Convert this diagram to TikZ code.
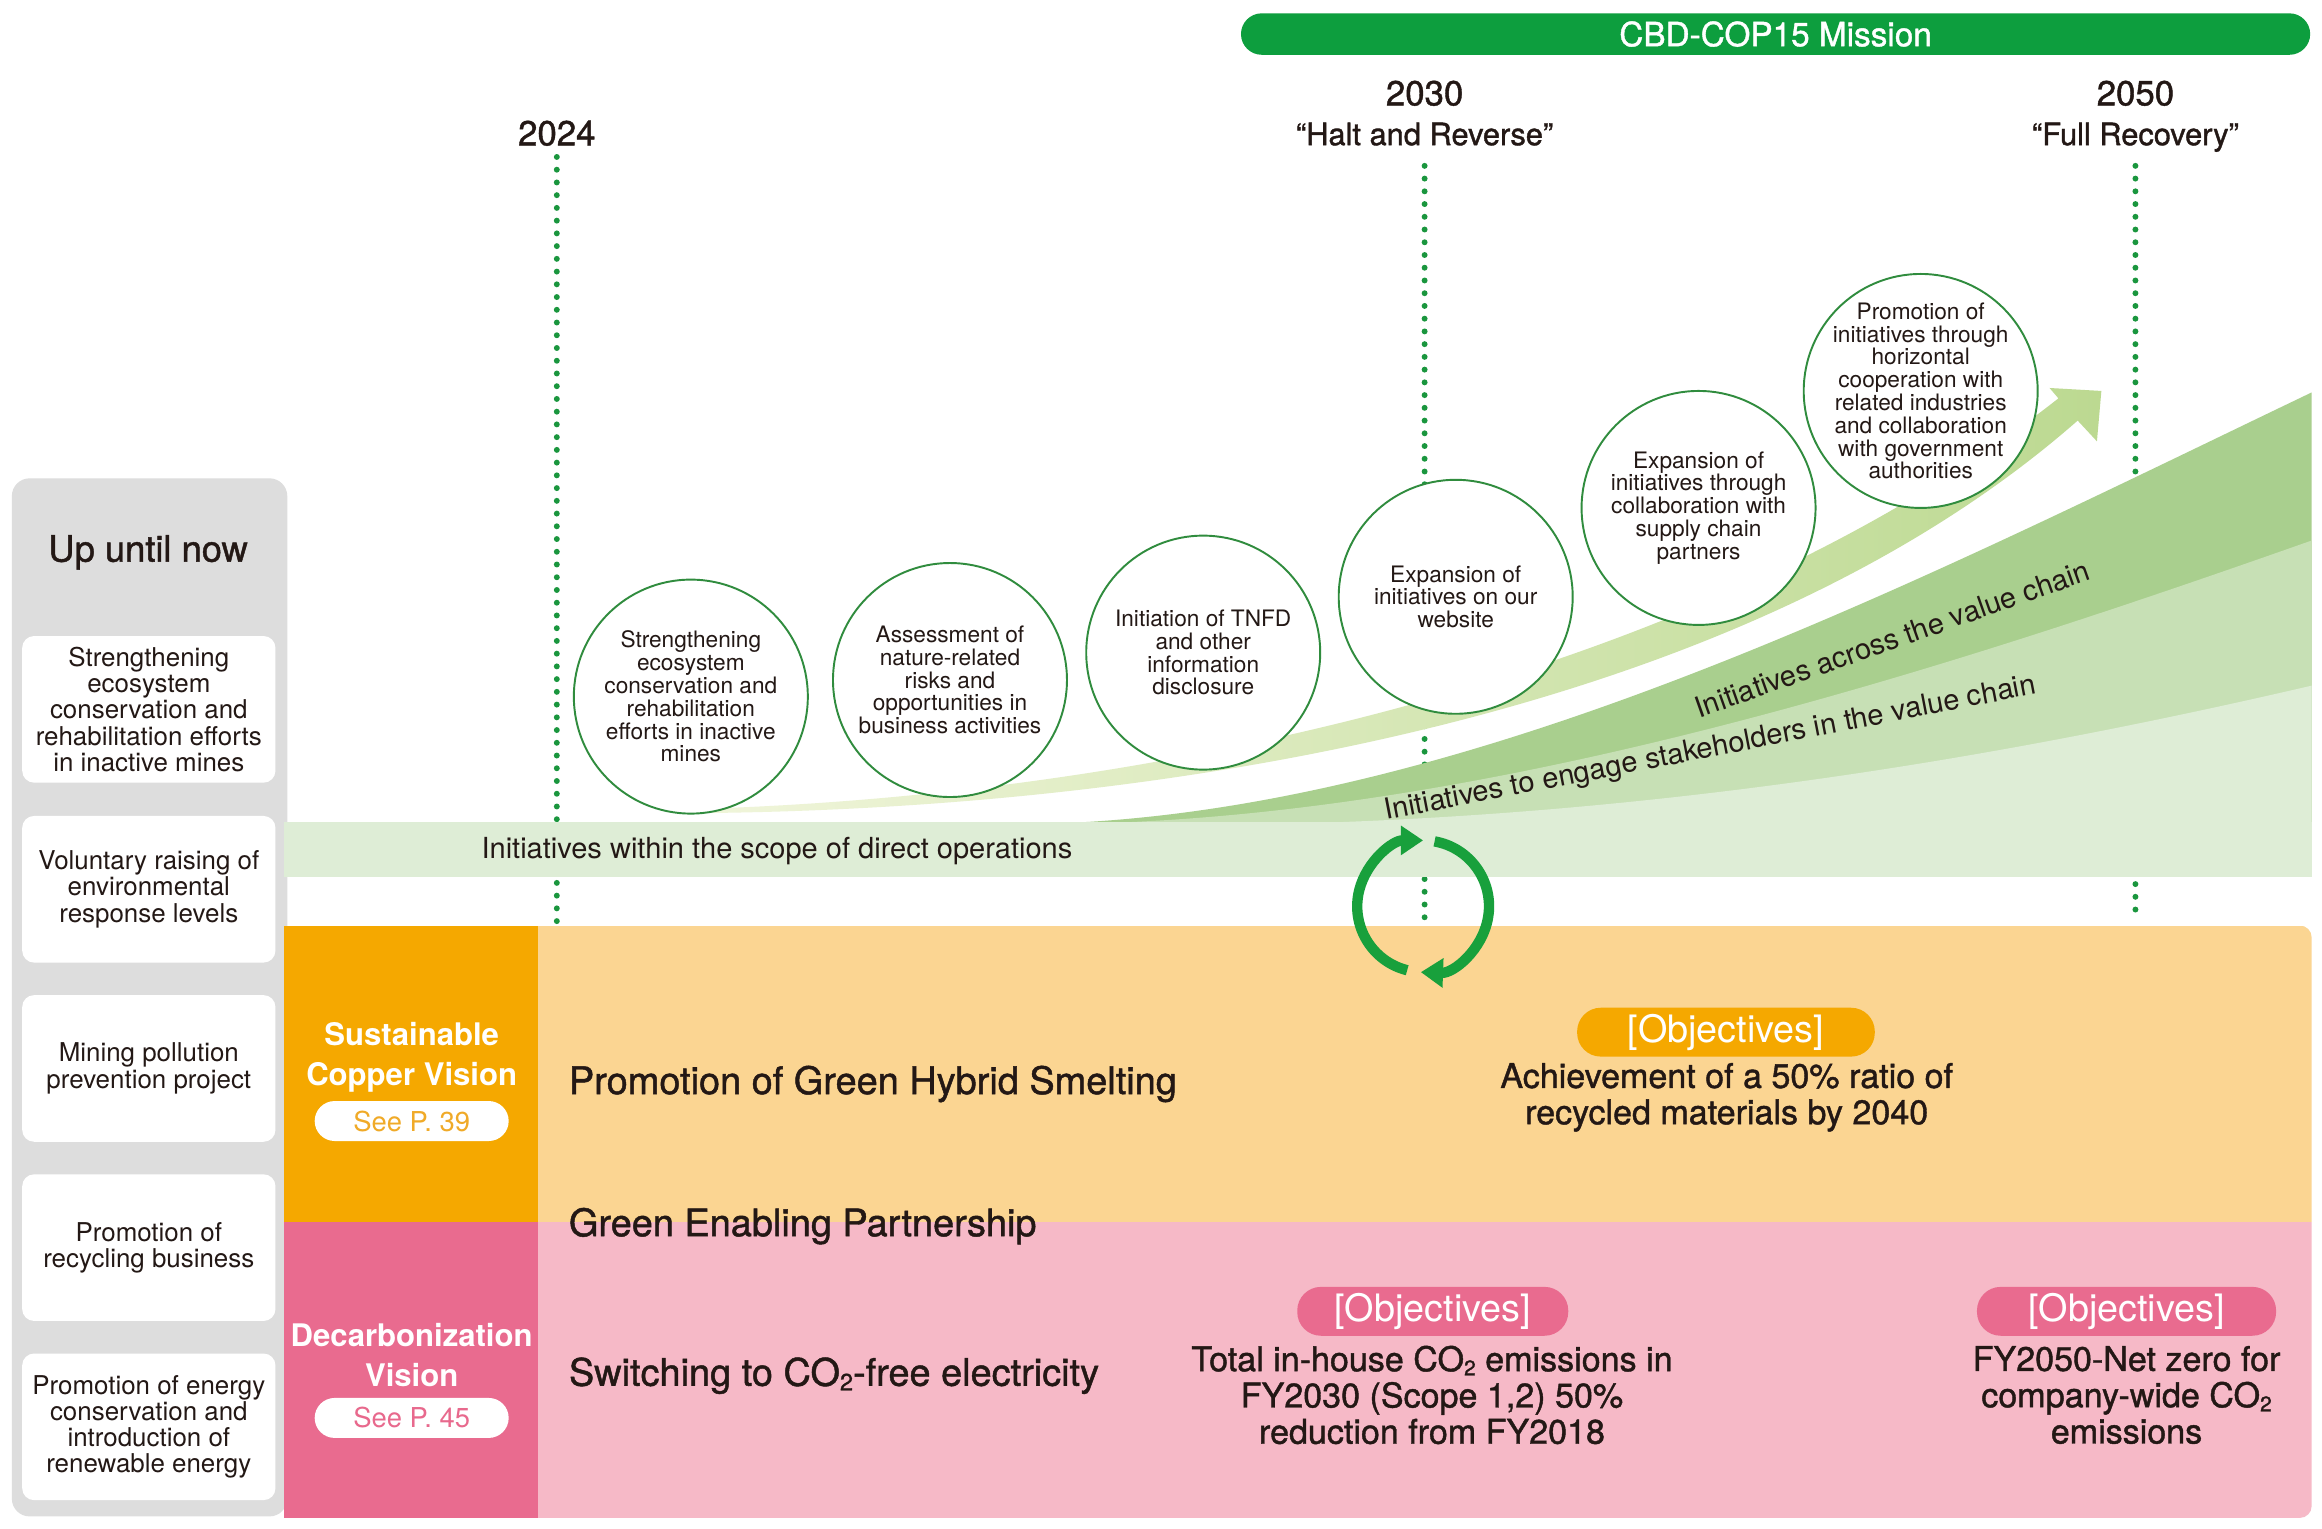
\documentclass[tikz,border=0pt]{standalone}
\usepackage{fontspec}
\setmainfont{TeX Gyre Heros}
\newfontfamily\medfont[FakeBold=1.2]{TeX Gyre Heros}
\usetikzlibrary{arrows.meta}
\newcommand\setfs[2]{\fontsize{#1}{#2}\selectfont}
\newcommand\subtwo{\raisebox{-0.12em}{\fontsize{0.62em}{0.62em}\selectfont 2}}
\definecolor{txt}{RGB}{35,24,21}
\definecolor{panelgray}{RGB}{221,221,221}
\definecolor{topgreen}{RGB}{13,158,62}
\definecolor{dotgreen}{RGB}{26,150,62}
\definecolor{circgreen}{RGB}{48,140,62}
\definecolor{cyclegreen}{RGB}{24,160,60}
\definecolor{bandlight}{RGB}{222,237,214}
\definecolor{bandmid}{RGB}{199,224,181}
\definecolor{banddark}{RGB}{169,207,142}
\definecolor{arrowL}{RGB}{240,245,218}
\definecolor{arrowR}{RGB}{188,217,145}
\definecolor{orD}{RGB}{245,168,0}
\definecolor{orL}{RGB}{251,213,146}
\definecolor{pkD}{RGB}{233,107,143}
\definecolor{pkL}{RGB}{246,185,199}
\definecolor{seeor}{RGB}{240,170,40}
\definecolor{seepk}{RGB}{232,105,141}
\begin{document}
\begin{tikzpicture}[x=1pt,y=-1pt,
  circ/.style={circle, draw=circgreen, line width=1.3pt, fill=white, minimum size=158pt, inner sep=-12pt, align=center, text=txt, font=\setfs{15.3}{15.4}},
  lbox/.style={rounded corners=8pt, fill=white, minimum width=171pt, minimum height=99pt, align=center, text=txt, inner sep=0pt, font=\setfs{17.5}{17.7}},
  dotline/.style={dotgreen, line width=4pt, line cap=round, dash pattern=on 0pt off 8.6pt},
  pill/.style={rounded corners=16pt, minimum height=33pt, text=white, inner sep=0pt, font=\setfs{25.5}{25.5}},
  seepill/.style={fill=white, rounded corners=13.5pt, minimum width=131pt, minimum height=27pt, inner sep=0pt, font=\setfs{18.5}{18.5}},
  vision/.style={text=white, align=center, inner sep=0pt, font=\bfseries\setfs{21}{26.5}},
  bigtxt/.style={text=txt, anchor=west, inner sep=0pt, font=\medfont\setfs{25.6}{25.6}},
  objtxt/.style={text=txt, align=center, inner sep=0pt, font=\medfont\setfs{23}{24.5}},
  slant/.style={text=txt, anchor=base, inner sep=0pt, font=\setfs{19.6}{19.6}},
  yearlbl/.style={text=txt, inner sep=0pt, font=\medfont\setfs{23.5}{23.5}},
  quotelbl/.style={text=txt, inner sep=0pt, anchor=base, font=\medfont\setfs{20.8}{20.8}}
]
\fill[white] (0,0) rectangle (1568,1032);
\useasboundingbox (0,0) rectangle (1568,1032);

% top bar and year labels
\node[fill=topgreen, rounded corners=14pt, minimum width=722pt, minimum height=28pt, inner sep=0pt, text=white, font=\medfont\setfs{22.5}{22.5}] (cbd) at (1199,23) {CBD-COP15 Mission};
\node[yearlbl] (y2024) at (376,90) {2024};
\node[yearlbl] (y2030) at (962,63) {2030};
\node[quotelbl] (q2030) at (962,98) {“Halt and Reverse”};
\node[yearlbl] (y2050) at (1442,63) {2050};
\node[quotelbl] (q2050) at (1442,98) {“Full Recovery”};

% dotted time lines
\coordinate (s2024) at (376,106);
\coordinate (e2024) at (376,622);
\coordinate (s2030) at (962,112);
\coordinate (e2030) at (962,622);
\coordinate (s2050) at (1442,112);
\coordinate (e2050) at (1442,323);
\coordinate (m2050) at (1442,597);
\coordinate (f2050) at (1442,622);
\draw[dotline] (s2024) -- (e2024);
\draw[dotline] (s2030) -- (e2030);
\draw[dotline] (s2050) -- (e2050);
\draw[dotline] (m2050) -- (f2050);

% light rising arrow
\shade[left color=arrowL, right color=arrowR] (480,549) .. controls (800,545) and (1180,480) .. (1403,284) -- (1416,298) -- (1419,264) -- (1384,262) -- (1390,269) .. controls (1160,450) and (800,535) .. (480,546) -- cycle;

% wedges
\fill[banddark] (715,556) .. controls (1000,545) and (1300,390) .. (1561,265) -- (1561,556) -- cycle;
\fill[bandmid] (740,556) .. controls (1020,548) and (1320,450) .. (1561,365) -- (1561,556) -- cycle;
\fill[bandlight] (880,556) .. controls (1150,548) and (1380,505) .. (1561,463) -- (1561,556) -- cycle;
\fill[bandlight] (192,555) rectangle (1561,592);

\node[slant, anchor=base west] (direct) at (325,580) {Initiatives within the scope of direct operations};
\node[slant, rotate=11] (engage) at (1156,511) {Initiatives to engage stakeholders in the value chain};
\node[slant, rotate=19.5] (across) at (1280,438) {Initiatives across the value chain};

% circles
\node[circ] (c1) at (466.5,470.4) {Strengthening\\ecosystem\\conservation and\\rehabilitation\\efforts in inactive\\mines};
\node[circ] (c2) at (641.5,459.2) {Assessment of\\nature-related\\risks and\\opportunities in\\business activities};
\node[circ] (c3) at (812.5,440.7) {Initiation of TNFD\\and other\\information\\disclosure};
\node[circ] (c4) at (983,403) {Expansion of\\initiatives on our\\website};
\node[circ] (c5) at (1147,343) {Expansion of\\initiatives through\\collaboration with\\supply chain\\partners};
\node[circ] (c6) at (1297,264) {Promotion of\\initiatives through\\horizontal\\cooperation with\\related industries\\and collaboration\\with government\\authorities};

% left gray panel
\fill[panelgray, rounded corners=12pt] (8,323) rectangle (194,1024);
\fill[white] (192,555) rectangle (196,592);
\fill[bandlight] (192,555) rectangle (196,592);
\node[text=txt, inner sep=0pt, font=\medfont\setfs{24.5}{24.5}] (now) at (100,373) {Up until now};
\node[lbox] (b1) at (100.5,479) {Strengthening\\ecosystem\\conservation and\\rehabilitation efforts\\in inactive mines};
\node[lbox] (b2) at (100.5,600.5) {Voluntary raising of\\environmental\\response levels};
\node[lbox] (b3) at (100.5,721.5) {Mining pollution\\prevention project};
\node[lbox] (b4) at (100.5,842.5) {Promotion of\\recycling business};
\node[lbox] (b5) at (100.5,963.5) {Promotion of energy\\conservation and\\introduction of\\renewable energy};

% vision panels
\begin{scope}
\clip[rounded corners=8pt] (150,625) rectangle (1561,1025);
\fill[orD] (192,625) rectangle (363,825);
\fill[pkD] (192,825) rectangle (363,1025);
\fill[orL] (363,625) rectangle (1561,825);
\fill[pkL] (363,825) rectangle (1561,1025);
\end{scope}

\node[vision] (scv) at (278,714) {Sustainable\\Copper Vision};
\node[seepill, text=seeor] (see39) at (278,757) {See P. 39};
\node[vision] (dv) at (278,915) {Decarbonization\\Vision};
\node[seepill, text=seepk] (see45) at (278,957.5) {See P. 45};

\node[bigtxt] (ghs) at (384,732) {Promotion of Green Hybrid Smelting};
\node[bigtxt] (gep) at (384,828) {Green Enabling Partnership};
\node[bigtxt] (co2) at (384,929) {Switching to CO\subtwo-free electricity};

\node[pill, fill=orD, minimum width=201pt] (obj1) at (1165.5,697) {[Objectives]};
\node[objtxt] (t1) at (1166,741) {Achievement of a 50\% ratio of\\recycled materials by 2040};
\node[pill, fill=pkD, minimum width=183pt] (obj2) at (967.5,885.5) {[Objectives]};
\node[objtxt] (t2) at (967,942) {Total in-house CO\subtwo{} emissions in\\FY2030 (Scope 1,2) 50\%\\reduction from FY2018};
\node[pill, fill=pkD, minimum width=202pt] (obj3) at (1436,885.5) {[Objectives]};
\node[objtxt] (t3) at (1436,942) {FY2050-Net zero for\\company-wide CO\subtwo\\emissions};

% cycle arrow
\begin{scope}[shift={(961,612)}, yscale=-1]
\draw[cyclegreen, line width=7pt, -{Triangle[length=15pt,width=19pt]}] (256:44.5) arc[start angle=256, end angle=90, radius=44.5];
\draw[cyclegreen, line width=7pt, -{Triangle[length=15pt,width=19pt]}] (80:44.5) arc[start angle=80, end angle=-92, radius=44.5];
\end{scope}
\end{tikzpicture}
\end{document}
